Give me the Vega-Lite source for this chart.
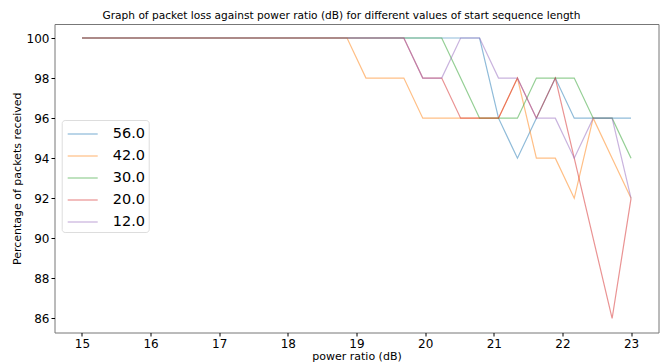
{
  "$schema": "https://vega.github.io/schema/vega-lite/v6.json",
  "autosize": {"type": "none"},
  "padding": {"left": 54.5, "top": 24, "right": 3, "bottom": 30},
  "width": 604,
  "height": 308.5,
  "title": {"text": "Graph of packet loss against power ratio (dB) for different values of start sequence length", "anchor": "middle", "dx": -15, "offset": 2, "fontSize": 10.6, "fontWeight": "normal", "font": "DejaVu Sans", "color": "#000"},
  "config": {
    "view": {"stroke": "#777", "strokeWidth": 1},
    "axis": {"labelFont": "DejaVu Sans", "titleFont": "DejaVu Sans", "labelColor": "#000", "titleColor": "#000", "tickColor": "#000", "grid": false, "domain": false, "labelFontSize": 12, "titleFontSize": 11, "titleFontWeight": "normal", "tickSize": 3.5, "labelPadding": 2}
  },
  "data": {"values": [
    {"x":15,"s":"56.0","y":100},{"x":15.2759,"s":"56.0","y":100},{"x":15.5517,"s":"56.0","y":100},{"x":15.8276,"s":"56.0","y":100},{"x":16.1034,"s":"56.0","y":100},{"x":16.3793,"s":"56.0","y":100},{"x":16.6552,"s":"56.0","y":100},{"x":16.931,"s":"56.0","y":100},{"x":17.2069,"s":"56.0","y":100},{"x":17.4828,"s":"56.0","y":100},{"x":17.7586,"s":"56.0","y":100},{"x":18.0345,"s":"56.0","y":100},{"x":18.3103,"s":"56.0","y":100},{"x":18.5862,"s":"56.0","y":100},{"x":18.8621,"s":"56.0","y":100},{"x":19.1379,"s":"56.0","y":100},{"x":19.4138,"s":"56.0","y":100},{"x":19.6897,"s":"56.0","y":100},{"x":19.9655,"s":"56.0","y":100},{"x":20.2414,"s":"56.0","y":100},{"x":20.5172,"s":"56.0","y":100},{"x":20.7931,"s":"56.0","y":100},{"x":21.069,"s":"56.0","y":96},{"x":21.3448,"s":"56.0","y":94},{"x":21.6207,"s":"56.0","y":96},{"x":21.8966,"s":"56.0","y":98},{"x":22.1724,"s":"56.0","y":96},{"x":22.4483,"s":"56.0","y":96},{"x":22.7241,"s":"56.0","y":96},{"x":23,"s":"56.0","y":96},
    {"x":15,"s":"42.0","y":100},{"x":15.2759,"s":"42.0","y":100},{"x":15.5517,"s":"42.0","y":100},{"x":15.8276,"s":"42.0","y":100},{"x":16.1034,"s":"42.0","y":100},{"x":16.3793,"s":"42.0","y":100},{"x":16.6552,"s":"42.0","y":100},{"x":16.931,"s":"42.0","y":100},{"x":17.2069,"s":"42.0","y":100},{"x":17.4828,"s":"42.0","y":100},{"x":17.7586,"s":"42.0","y":100},{"x":18.0345,"s":"42.0","y":100},{"x":18.3103,"s":"42.0","y":100},{"x":18.5862,"s":"42.0","y":100},{"x":18.8621,"s":"42.0","y":100},{"x":19.1379,"s":"42.0","y":98},{"x":19.4138,"s":"42.0","y":98},{"x":19.6897,"s":"42.0","y":98},{"x":19.9655,"s":"42.0","y":96},{"x":20.2414,"s":"42.0","y":96},{"x":20.5172,"s":"42.0","y":96},{"x":20.7931,"s":"42.0","y":96},{"x":21.069,"s":"42.0","y":96},{"x":21.3448,"s":"42.0","y":98},{"x":21.6207,"s":"42.0","y":94},{"x":21.8966,"s":"42.0","y":94},{"x":22.1724,"s":"42.0","y":92},{"x":22.4483,"s":"42.0","y":96},{"x":22.7241,"s":"42.0","y":94},{"x":23,"s":"42.0","y":92},
    {"x":15,"s":"30.0","y":100},{"x":15.2759,"s":"30.0","y":100},{"x":15.5517,"s":"30.0","y":100},{"x":15.8276,"s":"30.0","y":100},{"x":16.1034,"s":"30.0","y":100},{"x":16.3793,"s":"30.0","y":100},{"x":16.6552,"s":"30.0","y":100},{"x":16.931,"s":"30.0","y":100},{"x":17.2069,"s":"30.0","y":100},{"x":17.4828,"s":"30.0","y":100},{"x":17.7586,"s":"30.0","y":100},{"x":18.0345,"s":"30.0","y":100},{"x":18.3103,"s":"30.0","y":100},{"x":18.5862,"s":"30.0","y":100},{"x":18.8621,"s":"30.0","y":100},{"x":19.1379,"s":"30.0","y":100},{"x":19.4138,"s":"30.0","y":100},{"x":19.6897,"s":"30.0","y":100},{"x":19.9655,"s":"30.0","y":100},{"x":20.2414,"s":"30.0","y":100},{"x":20.5172,"s":"30.0","y":98},{"x":20.7931,"s":"30.0","y":96},{"x":21.069,"s":"30.0","y":96},{"x":21.3448,"s":"30.0","y":96},{"x":21.6207,"s":"30.0","y":98},{"x":21.8966,"s":"30.0","y":98},{"x":22.1724,"s":"30.0","y":98},{"x":22.4483,"s":"30.0","y":96},{"x":22.7241,"s":"30.0","y":96},{"x":23,"s":"30.0","y":94},
    {"x":15,"s":"20.0","y":100},{"x":15.2759,"s":"20.0","y":100},{"x":15.5517,"s":"20.0","y":100},{"x":15.8276,"s":"20.0","y":100},{"x":16.1034,"s":"20.0","y":100},{"x":16.3793,"s":"20.0","y":100},{"x":16.6552,"s":"20.0","y":100},{"x":16.931,"s":"20.0","y":100},{"x":17.2069,"s":"20.0","y":100},{"x":17.4828,"s":"20.0","y":100},{"x":17.7586,"s":"20.0","y":100},{"x":18.0345,"s":"20.0","y":100},{"x":18.3103,"s":"20.0","y":100},{"x":18.5862,"s":"20.0","y":100},{"x":18.8621,"s":"20.0","y":100},{"x":19.1379,"s":"20.0","y":100},{"x":19.4138,"s":"20.0","y":100},{"x":19.6897,"s":"20.0","y":100},{"x":19.9655,"s":"20.0","y":98},{"x":20.2414,"s":"20.0","y":98},{"x":20.5172,"s":"20.0","y":96},{"x":20.7931,"s":"20.0","y":96},{"x":21.069,"s":"20.0","y":96},{"x":21.3448,"s":"20.0","y":98},{"x":21.6207,"s":"20.0","y":96},{"x":21.8966,"s":"20.0","y":98},{"x":22.1724,"s":"20.0","y":94},{"x":22.4483,"s":"20.0","y":90},{"x":22.7241,"s":"20.0","y":86},{"x":23,"s":"20.0","y":92},
    {"x":15,"s":"12.0","y":100},{"x":15.2759,"s":"12.0","y":100},{"x":15.5517,"s":"12.0","y":100},{"x":15.8276,"s":"12.0","y":100},{"x":16.1034,"s":"12.0","y":100},{"x":16.3793,"s":"12.0","y":100},{"x":16.6552,"s":"12.0","y":100},{"x":16.931,"s":"12.0","y":100},{"x":17.2069,"s":"12.0","y":100},{"x":17.4828,"s":"12.0","y":100},{"x":17.7586,"s":"12.0","y":100},{"x":18.0345,"s":"12.0","y":100},{"x":18.3103,"s":"12.0","y":100},{"x":18.5862,"s":"12.0","y":100},{"x":18.8621,"s":"12.0","y":100},{"x":19.1379,"s":"12.0","y":100},{"x":19.4138,"s":"12.0","y":100},{"x":19.6897,"s":"12.0","y":100},{"x":19.9655,"s":"12.0","y":98},{"x":20.2414,"s":"12.0","y":98},{"x":20.5172,"s":"12.0","y":100},{"x":20.7931,"s":"12.0","y":100},{"x":21.069,"s":"12.0","y":98},{"x":21.3448,"s":"12.0","y":98},{"x":21.6207,"s":"12.0","y":96},{"x":21.8966,"s":"12.0","y":96},{"x":22.1724,"s":"12.0","y":94},{"x":22.4483,"s":"12.0","y":96},{"x":22.7241,"s":"12.0","y":96},{"x":23,"s":"12.0","y":92}
  ]},
  "mark": {"type": "line", "strokeWidth": 1.2, "opacity": 0.5},
  "encoding": {
    "x": {"field": "x", "type": "quantitative", "scale": {"domain": [14.6, 23.4], "nice": false, "zero": false}, "axis": {"values": [15,16,17,18,19,20,21,22,23], "title": "power ratio (dB)", "titlePadding": 1}},
    "y": {"field": "y", "type": "quantitative", "scale": {"domain": [85.3, 100.7], "nice": false, "zero": false}, "axis": {"values": [86,88,90,92,94,96,98,100], "title": "Percentage of packets received", "titlePadding": 4}},
    "color": {"field": "s", "type": "nominal", "scale": {"domain": ["56.0","42.0","30.0","20.0","12.0"], "range": ["#1f77b4","#ff7f0e","#2ca02c","#d62728","#9467bd"]},
      "legend": {"title": null, "orient": "none", "legendX": 7.2, "legendY": 96, "symbolType": "M-0.8,0H2.2", "symbolSize": 400, "symbolStrokeWidth": 1.2, "symbolOpacity": 0.5, "labelFont": "DejaVu Sans", "labelFontSize": 14.5, "labelColor": "#000", "labelOffset": 26, "padding": 3, "rowPadding": 4, "strokeColor": "#ddd", "fillColor": "rgba(255,255,255,0.8)", "cornerRadius": 3}}
  }
}
